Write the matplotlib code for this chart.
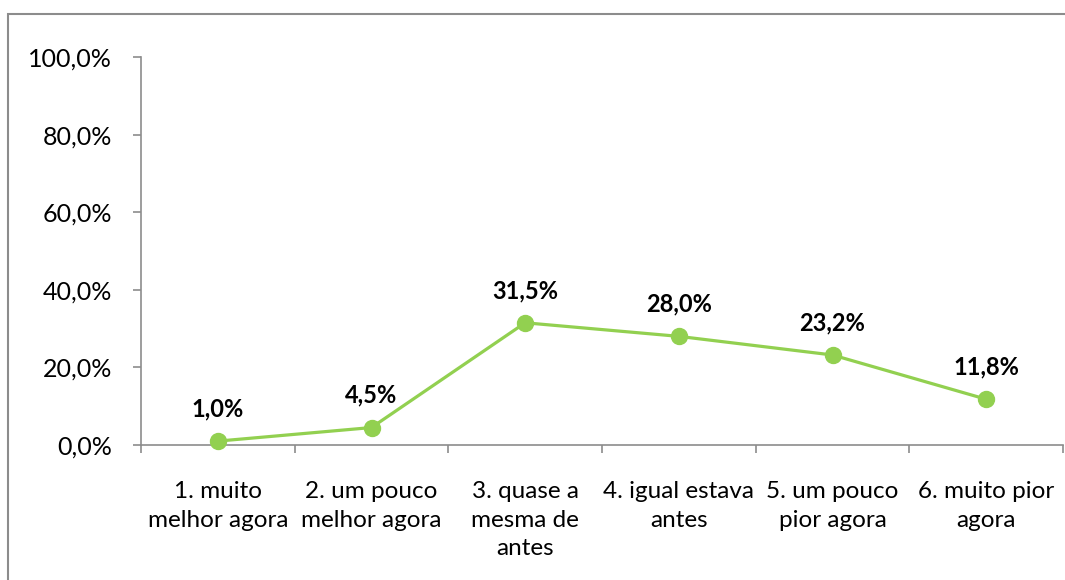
import matplotlib.pyplot as plt
from matplotlib.patches import Rectangle

categories = ["1. muito\nmelhor agora", "2. um pouco\nmelhor agora", "3. quase a\nmesma de\nantes",
              "4. igual estava\nantes", "5. um pouco\npior agora", "6. muito pior\nagora"]
values = [1.0, 4.5, 31.5, 28.0, 23.2, 11.8]
yticks = [0, 20, 40, 60, 80, 100]

plt.rcParams['font.family'] = ['Lato', 'DejaVu Sans']

W, H = 1065, 580
fig = plt.figure(figsize=(W / 100, H / 100), dpi=100)
ax = fig.add_axes([141 / W, 1 - 445 / H, (1063 - 141) / W, (445 - 57) / H])

# outer chart border (cropped at right and bottom)
fig.patches.append(Rectangle((8 / W, -0.1), 1.2, 1 - 14 / H + 0.1, transform=fig.transFigure,
                             fill=False, edgecolor='#8c8c8c', linewidth=1.5))

x = [i + 0.5 for i in range(len(values))]
ax.plot(x, values, color='#92D050', linewidth=2.3, marker='o', markersize=11.5, zorder=3, clip_on=False)
for xi, v in zip(x, values):
    ax.annotate(f"{v:.1f}%".replace('.', ','), (xi, v), xytext=(0, 15), textcoords='offset points',
                ha='center', va='bottom', fontsize=17, fontweight='bold', color='black')

ax.set_xlim(0, len(values))
ax.set_ylim(0, 100)
ax.set_yticks(yticks)
ax.set_yticklabels([f"{t:.1f}%".replace('.', ',') for t in yticks], fontsize=18)
ax.set_xticks(range(len(values) + 1))
ax.set_xticklabels([])
ax.set_xticks(x, minor=True)
ax.set_xticklabels(categories, minor=True, fontsize=17.5, linespacing=1.45, va='top')
ax.tick_params(axis='x', which='minor', length=0, pad=26)
ax.tick_params(axis='x', which='major', length=6, color='#8c8c8c', width=1.2)
ax.tick_params(axis='y', length=6, color='#8c8c8c', width=1.2, pad=15)

for s in ['top', 'right']:
    ax.spines[s].set_visible(False)
for s in ['left', 'bottom']:
    ax.spines[s].set_color('#8c8c8c')
    ax.spines[s].set_linewidth(1.2)

fig.savefig('out.png', dpi=100)
